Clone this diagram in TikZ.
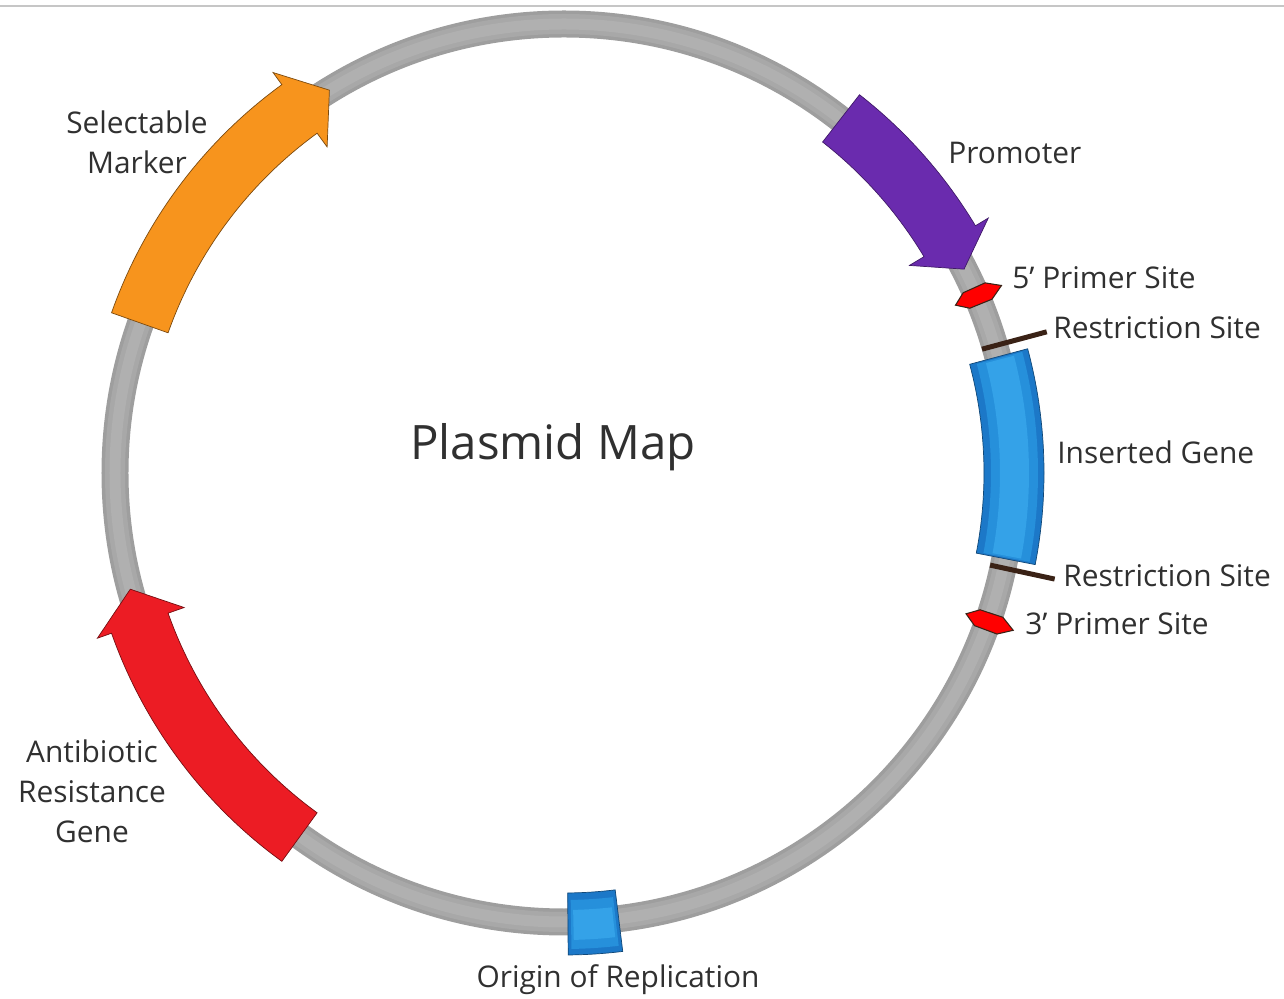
\documentclass[tikz,border=0pt]{standalone}
\usepackage{fontspec}
\setmainfont{Open Sans}
\usepackage{tikz}
\usetikzlibrary{positioning}

\definecolor{ringgray}{HTML}{9E9E9E}
\definecolor{ringmid}{HTML}{A8A8A8}
\definecolor{ringlight}{HTML}{B0B0B0}
\definecolor{labelgray}{HTML}{303030}
\definecolor{promoterpurple}{HTML}{6A2BAE}
\definecolor{markerorange}{HTML}{F7941D}
\definecolor{resistred}{HTML}{EC1C24}
\definecolor{geneblue}{HTML}{1C78C8}
\definecolor{genemid}{HTML}{2690DB}
\definecolor{genelight}{HTML}{34A2E8}
\definecolor{sitebrown}{HTML}{3A2216}

\tikzstyle{lbl} = [text=labelgray, inner sep=0pt, font=\fontsize{17}{22}\selectfont]
\tikzstyle{lblw} = [lbl, anchor=west]
\tikzstyle{lblc} = [lbl, align=center, font=\fontsize{17}{22.7}\selectfont]
\tikzstyle{genebody} = [line width=0.4pt, line join=miter]
\tikzstyle{cutline} = [draw=sitebrown, line width=0.1cm]
\tikzstyle{primer} = [fill=red, draw=sitebrown, line width=0.6pt]

% arc arrow: fill, outline, tail angle, head base angle, tip angle
\newcommand{\genearrow}[5]{%
  \draw[genebody, fill=#1, draw=#2] (#3:420) arc[start angle=#3, end angle=#4, radius=420]
    -- (#4:403) -- (#5:449) -- (#4:495) -- (#4:480)
    arc[start angle=#4, end angle=#3, radius=480] -- cycle;}
% annular band: colour, from angle, to angle, inner r, outer r
\newcommand{\band}[5]{%
  \fill[#1] (#2:#4) arc[start angle=#2, end angle=#3, radius=#4]
    -- (#3:#5) arc[start angle=#3, end angle=#2, radius=#5] -- cycle;}

\begin{document}
\begin{tikzpicture}[x=0.02cm, y=0.02cm]
\useasboundingbox (-564,-526) rectangle (720,473);
\draw[gray!45, line width=0.04cm] (-564,467) -- (720,467);

% backbone
\draw[ringgray, line width=0.54cm] (0,0) circle[radius=449];
\draw[ringmid, line width=0.40cm] (0,0) circle[radius=449];
\draw[ringlight, line width=0.22cm] (0,0) circle[radius=449];

% genes
\genearrow{promoterpurple}{promoterpurple!60!black}{52}{31}{27}
\genearrow{markerorange}{markerorange!50!black}{160.5}{126}{121.5}
\genearrow{resistred}{resistred!50!black}{234}{199.5}{195}

% inserted gene
\draw[genebody, fill=geneblue, draw=geneblue!60!black] (15:420) arc[start angle=15, end angle=-11, radius=420]
  -- (-11:480) arc[start angle=-11, end angle=15, radius=480] -- cycle;
\band{genemid}{14.8}{-10.8}{427}{474}
\band{genelight}{14.6}{-10.6}{436}{465}

% origin of replication
\draw[genebody, fill=geneblue, draw=geneblue!60!black] (270.5:420) arc[start angle=270.5, end angle=277, radius=420]
  -- (277:482) arc[start angle=277, end angle=270.5, radius=482] -- cycle;
\band{genemid}{270.9}{276.6}{427}{476}
\band{genelight}{271.2}{276.3}{437}{467}

% primer sites
\draw[primer] (23.2:426) -- (24.3:438) -- (24.3:462) -- (23.2:476)
  -- (22.1:462) -- (22.1:438) -- cycle;
\draw[primer] (-19.3:426) -- (-18.2:438) -- (-18.2:462) -- (-19.3:476)
  -- (-20.4:462) -- (-20.4:438) -- cycle;

% restriction sites
\coordinate (cut1in) at (16.5:436);
\coordinate (cut1out) at (16.3:503);
\coordinate (cut2in) at (-12.2:436);
\coordinate (cut2out) at (-12.2:502);
\draw[cutline] (cut1in) -- (cut1out);
\draw[cutline] (cut2in) -- (cut2out);

% labels
\node (title) [text=labelgray, font=\fontsize{27}{32}\selectfont] at (-11,26) {Plasmid Map};
\node (promoter) [lblw] at (384,320) {Promoter};
\node (primer5) [lblw] at (448,195) {5’ Primer Site};
\node (site1) [lblw] at (489,145) {Restriction Site};
\node (insert) [lblw] at (493,21) {Inserted Gene};
\node (site2) [lblw] at (499,-103) {Restriction Site};
\node (primer3) [lblw] at (461,-151) {3’ Primer Site};
\node (origin) [lbl] at (54,-507) {Origin of Replication};
\node (resist) [lblc] at (-472,-318) {Antibiotic\\Resistance\\Gene};
\node (marker) [lblc] at (-427,331) {Selectable\\Marker};
\end{tikzpicture}
\end{document}
